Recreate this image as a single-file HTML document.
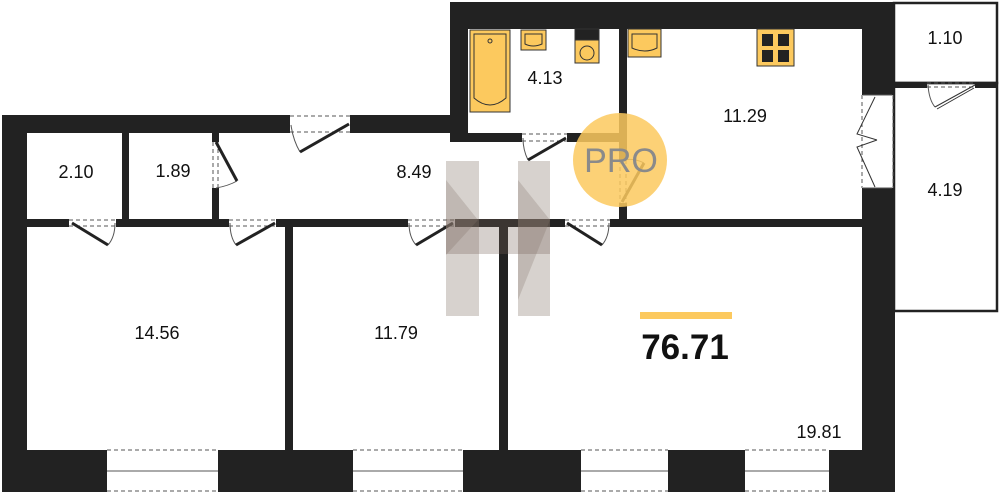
<!DOCTYPE html>
<html><head><meta charset="utf-8"><style>
html,body{margin:0;padding:0;background:#fff;}
svg{display:block;}
text{font-family:"Liberation Sans",sans-serif;fill:#111;}
</style></head><body>
<svg width="999" height="493" viewBox="0 0 999 493" xmlns="http://www.w3.org/2000/svg">
<g fill="#222">
<rect x="2" y="115" width="25" height="377"/>
<rect x="2" y="115" width="288" height="18"/>
<rect x="350" y="115" width="118" height="18"/>
<rect x="450" y="2" width="18" height="140"/>
<rect x="450" y="2" width="443" height="27"/>
<rect x="462" y="133" width="60" height="9"/>
<rect x="567" y="133" width="60" height="9"/>
<rect x="619" y="28" width="8" height="132"/>
<rect x="619" y="203" width="8" height="24"/>
<rect x="862" y="2" width="31" height="93"/>
<rect x="862" y="188" width="33" height="304"/>
<rect x="122" y="133" width="7" height="88"/>
<rect x="212" y="133" width="7" height="9"/>
<rect x="212" y="188" width="7" height="33"/>
<rect x="27" y="219" width="42" height="8"/>
<rect x="116" y="219" width="113" height="8"/>
<rect x="276" y="219" width="132" height="8"/>
<rect x="455" y="219" width="110" height="8"/>
<rect x="610" y="219" width="252" height="8"/>
<rect x="285" y="219" width="8" height="231"/>
<rect x="499" y="219" width="9" height="231"/>
<rect x="2" y="450" width="105" height="42"/>
<rect x="218" y="450" width="135" height="42"/>
<rect x="463" y="450" width="118" height="42"/>
<rect x="668" y="450" width="77" height="42"/>
<rect x="829" y="450" width="66" height="42"/>
</g>
<rect x="894" y="3" width="103" height="80" fill="none" stroke="#222" stroke-width="2.5"/>
<rect x="894" y="83" width="103" height="228" fill="none" stroke="#222" stroke-width="2.5"/>
<rect x="893" y="82" width="34" height="6" fill="#222"/><rect x="975" y="82" width="23" height="6" fill="#222"/>
<g stroke="#555" stroke-width="1" fill="none">
<g stroke-dasharray="4,3">
<line x1="107" y1="450" x2="218" y2="450"/><line x1="107" y1="491" x2="218" y2="491"/>
<line x1="353" y1="450" x2="463" y2="450"/><line x1="353" y1="491" x2="463" y2="491"/>
<line x1="581" y1="450" x2="668" y2="450"/><line x1="581" y1="491" x2="668" y2="491"/>
<line x1="745" y1="450" x2="829" y2="450"/><line x1="745" y1="491" x2="829" y2="491"/>
<line x1="290" y1="116" x2="350" y2="116"/><line x1="290" y1="132" x2="350" y2="132"/>
<line x1="213" y1="142" x2="213" y2="188"/><line x1="218" y1="142" x2="218" y2="188"/>
<line x1="69" y1="220" x2="116" y2="220"/><line x1="69" y1="226" x2="116" y2="226"/>
<line x1="229" y1="220" x2="276" y2="220"/><line x1="229" y1="226" x2="276" y2="226"/>
<line x1="408" y1="220" x2="455" y2="220"/><line x1="408" y1="226" x2="455" y2="226"/>
<line x1="565" y1="220" x2="610" y2="220"/><line x1="565" y1="226" x2="610" y2="226"/>
<line x1="522" y1="134" x2="567" y2="134"/><line x1="522" y1="141" x2="567" y2="141"/>
<line x1="620" y1="160" x2="620" y2="203"/><line x1="626" y1="160" x2="626" y2="203"/>
<line x1="927" y1="83" x2="975" y2="83"/><line x1="927" y1="87" x2="975" y2="87"/>
<line x1="862" y1="95" x2="862" y2="188"/><line x1="893" y1="95" x2="893" y2="188"/>
</g>
<line x1="107" y1="471" x2="218" y2="471"/><line x1="353" y1="471" x2="463" y2="471"/>
<line x1="581" y1="471" x2="668" y2="471"/><line x1="745" y1="471" x2="829" y2="471"/>
<line x1="863" y1="95" x2="892" y2="95"/><line x1="863" y1="188" x2="892" y2="188"/>
<path d="M300 152 Q293 140 291 125"/>
<path d="M237 181 Q228 186 216 188"/>
<path d="M108 245 Q115 237 115 223"/>
<path d="M236 245 Q230 237 230 223"/>
<path d="M416 245 Q409 237 409 223"/>
<path d="M602 245 Q609 237 609 223"/>
<path d="M528 160 Q523 150 523 138"/>
<path d="M644 163 Q635 158 623 160"/>
<path d="M935 107 Q929 100 928 85"/>
</g>
<g stroke="#222" stroke-width="3" fill="none">
<line x1="349" y1="124" x2="300" y2="152"/>
<line x1="216" y1="142" x2="237" y2="181"/>
<line x1="72" y1="223" x2="108" y2="245"/>
<line x1="275" y1="223" x2="236" y2="245"/>
<line x1="453" y1="223" x2="416" y2="245"/>
<line x1="567" y1="223" x2="602" y2="245"/>
<line x1="566" y1="138" x2="528" y2="160"/>
<line x1="622" y1="202" x2="644" y2="163"/>
</g>
<g stroke="#333" stroke-width="1" fill="none">
<path d="M975 85 L935 107 M974 88 L937 109"/>
<path d="M875 97 L857 134 L877 140 M875 187 L857 147 L877 140"/>
</g>
<g stroke="#333" stroke-width="1" fill="#fcc95e">
<rect x="470" y="30" width="40" height="82"/>
<path d="M474 34 H506 V98 Q490 112 474 98 Z" fill="none"/>
<circle cx="490" cy="41" r="2" fill="none"/>
<rect x="521" y="30" width="25" height="20"/>
<path d="M525 34 H542 V44 Q533 48 525 44 Z" fill="none"/>
<rect x="575" y="40" width="24" height="23"/>
<rect x="575" y="29" width="24" height="11" fill="#222"/>
<ellipse cx="587" cy="53" rx="7" ry="7" fill="none"/>
<rect x="628" y="29" width="33" height="28"/>
<path d="M632 34 H657 V48 Q645 54 632 48 Z" fill="none"/>
<rect x="757" y="29" width="37" height="37"/>
</g>
<g fill="#222"><rect x="762" y="34" width="11" height="12"/><rect x="778" y="34" width="11" height="12"/><rect x="762" y="50" width="11" height="12"/><rect x="778" y="50" width="11" height="12"/></g>
<g>
<rect x="446" y="161" width="33" height="155" fill="rgba(140,125,115,0.35)"/>
<rect x="518" y="161" width="32" height="155" fill="rgba(140,125,115,0.35)"/>
<path d="M446 180 L478 220 L446 255 Z" fill="rgba(140,125,115,0.3)"/>
<path d="M518 180 L550 220 L518 300 Z" fill="rgba(140,125,115,0.3)"/>
<rect x="446" y="219" width="104" height="35" fill="rgba(120,100,90,0.3)"/>
</g>
<circle cx="620" cy="160" r="47" fill="rgba(252,201,94,0.85)"/>
<text x="621" y="172" text-anchor="middle" font-size="34" style="fill:#8a8a8a">PRO</text>
<g font-size="18" text-anchor="middle">
<text x="76" y="178">2.10</text>
<text x="173" y="177">1.89</text>
<text x="414" y="178">8.49</text>
<text x="545" y="84">4.13</text>
<text x="745" y="122">11.29</text>
<text x="945" y="44">1.10</text>
<text x="945" y="196">4.19</text>
<text x="157" y="339">14.56</text>
<text x="396" y="339">11.79</text>
<text x="819" y="438">19.81</text>
</g>
<rect x="640" y="312" width="92" height="7" fill="#fcc95e"/>
<text x="685" y="359" text-anchor="middle" font-size="35" font-weight="bold">76.71</text>
</svg>
</body></html>
